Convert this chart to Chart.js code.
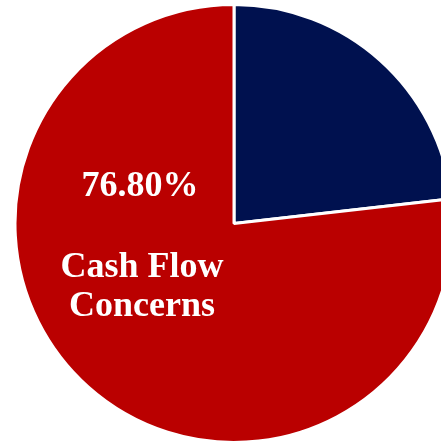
<!DOCTYPE html>
<html>
<head>
<meta charset="utf-8">
<script src="https://cdn.jsdelivr.net/npm/chart.js@4/dist/chart.umd.min.js"></script>
<style>
  html, body { margin: 0; padding: 0; background: #fff; overflow: hidden; width: 441px; height: 444px; }
  #wrap { position: absolute; left: 0; top: 0; width: 468px; height: 447px; }
</style>
</head>
<body>
<div id="wrap"><canvas id="pieChart" width="468" height="447"></canvas></div>
<script>
// data
const categories = ["Other", "Cash Flow Concerns"];
const shares = [23.2, 76.8];
const sliceColors = ["#00114F", "#BA0000"];

// white label drawn on the big slice
const sliceLabel = {
    id: "sliceLabel",
    afterDraw(chart) {
        const { ctx } = chart;
        const arc = chart.getDatasetMeta(0).data[1];
        const cx = arc.x, cy = arc.y;
        ctx.save();
        ctx.fillStyle = "#fff";
        ctx.textAlign = "center";
        ctx.textBaseline = "alphabetic";
        ctx.font = "bold 36px 'Liberation Serif', 'Times New Roman', serif";
        ctx.fillText(shares[1].toFixed(2) + "%", cx - 94, cy - 28);
        const words = categories[1].split(" ");
        ctx.fillText(words[0] + " " + words[1], cx - 92, cy + 53);
        ctx.fillText(words[2], cx - 92, cy + 92);
        ctx.restore();
    }
};

new Chart(document.getElementById("pieChart"), {
    type: "pie",
    data: {
        labels: categories,
        datasets: [{
            data: shares,
            backgroundColor: sliceColors,
            borderColor: "#fff",
            borderWidth: 3
        }]
    },
    options: {
        responsive: false,
        animation: false,
        radius: 219,
        layout: { padding: 0 },
        plugins: { legend: { display: false }, tooltip: { enabled: false } }
    },
    plugins: [sliceLabel]
});
</script>
</body>
</html>
